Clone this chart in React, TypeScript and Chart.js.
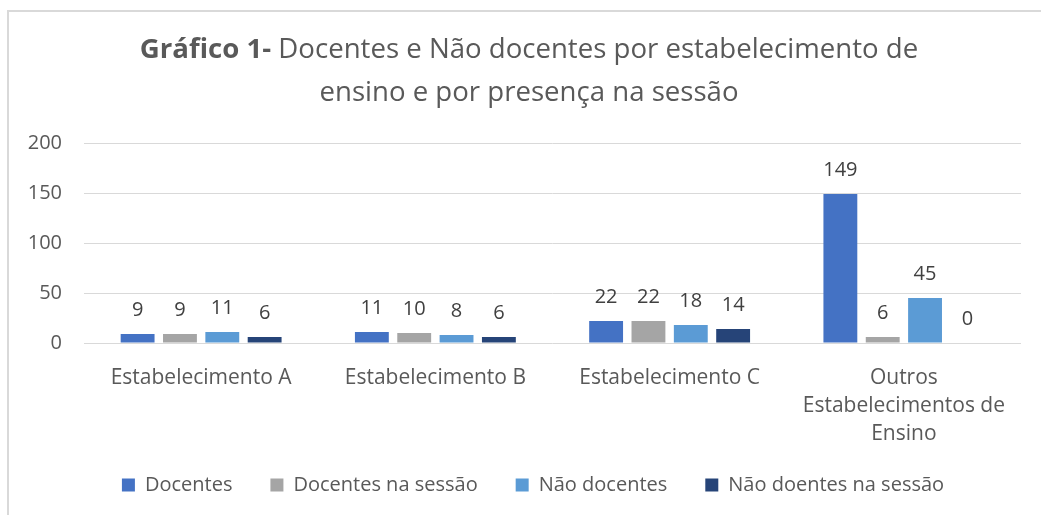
import React, { useEffect, useRef } from "react";
import { Chart, registerables } from "chart.js";

Chart.register(...registerables);

const categoryLabels: (string | string[])[] = [
  "Estabelecimento A",
  "Estabelecimento B",
  "Estabelecimento C",
  ["Outros", "Estabelecimentos de", "Ensino"],
];

const seriesNames = ["Docentes", "Docentes na sessão", "Não docentes", "Não doentes na sessão"];
const docentes = [9, 11, 22, 149];
const docentesSessao = [9, 10, 22, 6];
const naoDocentes = [11, 8, 18, 45];
const naoDocentesSessao = [6, 6, 14, 0];
const seriesColors = ["#4472C4", "#A5A5A5", "#5B9BD5", "#264478"];

const titleBold = "Gráfico 1-";
const titleRest = " Docentes e Não docentes por estabelecimento de";
const titleLine2 = "ensino e por presença na sessão";

const yTicks = [0, 50, 100, 150, 200];

const FONT = "'Open Sans', 'Noto Sans', sans-serif";
const TEXT = "#595959";
const TITLE_SIZE = 27.6;

const framePlugin = {
  id: "frame",
  beforeDraw(chart: any) {
    const ctx = chart.ctx;
    ctx.save();
    ctx.fillStyle = "#ffffff";
    ctx.fillRect(0, 0, chart.width, chart.height);
    ctx.fillStyle = "#d9d9d9";
    ctx.fillRect(7, 10, 2, chart.height - 10);
    ctx.fillRect(7, 10, chart.width - 7, 2);
    ctx.restore();
  },
};

const titlePlugin = {
  id: "mixedTitle",
  afterDraw(chart: any) {
    const ctx = chart.ctx;
    const cx = 529;
    ctx.save();
    ctx.fillStyle = TEXT;
    ctx.textBaseline = "middle";
    ctx.textAlign = "left";
    ctx.font = `bold ${TITLE_SIZE}px ${FONT}`;
    const wb = ctx.measureText(titleBold).width;
    ctx.font = `${TITLE_SIZE}px ${FONT}`;
    const wr = ctx.measureText(titleRest).width;
    const x = cx - (wb + wr) / 2;
    ctx.font = `bold ${TITLE_SIZE}px ${FONT}`;
    ctx.fillText(titleBold, x, 50);
    ctx.font = `${TITLE_SIZE}px ${FONT}`;
    ctx.fillText(titleRest, x + wb, 50);
    ctx.textAlign = "center";
    ctx.fillText(titleLine2, cx, 93);
    ctx.restore();
  },
};

const dataLabelPlugin = {
  id: "dataLabels",
  afterDatasetsDraw(chart: any) {
    const ctx = chart.ctx;
    ctx.save();
    ctx.fillStyle = "#404040";
    ctx.font = `20px ${FONT}`;
    ctx.textAlign = "center";
    ctx.textBaseline = "middle";
    chart.data.datasets.forEach((ds: any, i: number) => {
      const meta = chart.getDatasetMeta(i);
      meta.data.forEach((bar: any, j: number) => {
        ctx.fillText(String(ds.data[j]), bar.x, bar.y - 24);
      });
    });
    ctx.restore();
  },
};

export default function App() {
  const ref = useRef<HTMLCanvasElement | null>(null);

  useEffect(() => {
    document.body.style.margin = "0";
    if (!ref.current) return;
    const values = [docentes, docentesSessao, naoDocentes, naoDocentesSessao];
    const chart = new Chart(ref.current, {
      type: "bar",
      data: {
        labels: categoryLabels as any,
        datasets: values.map((v, i) => ({
          label: seriesNames[i],
          data: v,
          backgroundColor: seriesColors[i],
          borderWidth: 0,
          categoryPercentage: 0.723,
          barPercentage: 0.8,
        })),
      },
      options: {
        responsive: false,
        animation: false,
        devicePixelRatio: 1,
        layout: { padding: { top: 143, left: 45, right: 20, bottom: 10 } },
        plugins: {
          title: { display: false },
          tooltip: { enabled: false },
          legend: {
            position: "bottom",
            labels: {
              boxWidth: 13,
              boxHeight: 13,
              padding: 38,
              color: TEXT,
              font: { family: FONT, size: 20 },
            },
          },
        },
        scales: {
          x: {
            grid: { display: false, drawTicks: false },
            border: { display: false },
            ticks: {
              color: TEXT,
              font: { family: FONT, size: 21, lineHeight: 1.333 },
              padding: 21,
              maxRotation: 0,
              autoSkip: false,
            },
            afterFit(scale: any) {
              scale.height = 94;
              scale.paddingLeft = 0;
              scale.paddingRight = 0;
              scale._computeLabelArea = () => undefined;
            },
          },
          y: {
            min: 0,
            max: 200,
            grid: { color: "#d9d9d9", lineWidth: 1, drawTicks: false },
            border: { display: false },
            afterBuildTicks(scale: any) {
              scale.ticks = yTicks.map((v) => ({ value: v }));
            },
            ticks: {
              color: TEXT,
              font: { family: FONT, size: 20 },
              padding: 22,
            },
            afterFit(scale: any) {
              scale.width = 39;
              scale.paddingTop = 0;
              scale.paddingBottom = 0;
              scale._computeLabelArea = () => undefined;
            },
          },
        },
      },
      plugins: [framePlugin, titlePlugin, dataLabelPlugin],
    });
    return () => chart.destroy();
  }, []);

  return (
    <div style={{ width: 1041, height: 515, overflow: "hidden" }}>
      <canvas ref={ref} width={1041} height={515} style={{ display: "block" }} />
    </div>
  );
}
